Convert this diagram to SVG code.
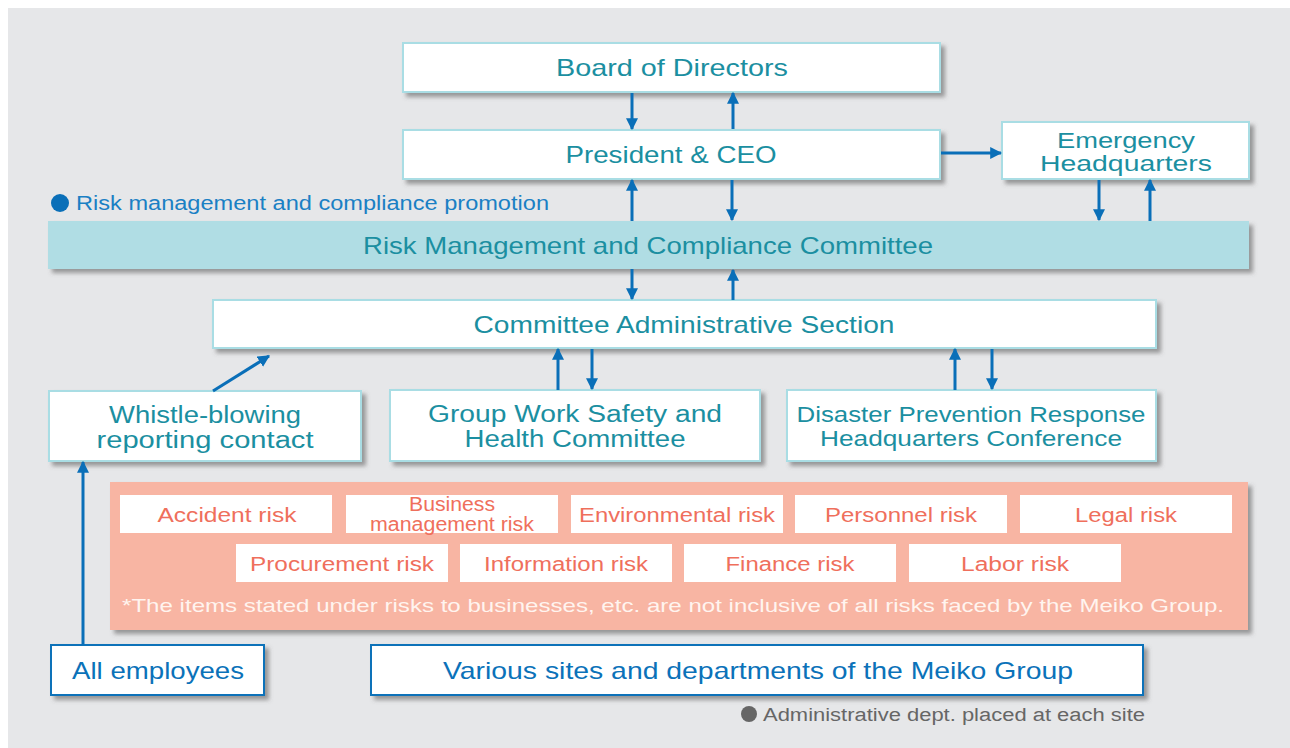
<svg xmlns="http://www.w3.org/2000/svg" width="1290" height="748" viewBox="0 0 1290 748">
<defs>
<filter id="sh" x="-5%" y="-20%" width="115%" height="150%">
<feDropShadow dx="4" dy="4" stdDeviation="2" flood-color="#555" flood-opacity="0.55"/>
</filter>
<marker id="ah" viewBox="0 0 10 10" refX="9" refY="5" markerWidth="4" markerHeight="4.4" markerUnits="strokeWidth" orient="auto">
<path d="M0,0 L10,5 L0,10 z" fill="#0a6fb8"/>
</marker>
<style>
.box{fill:#fff;stroke:#a9dde4;stroke-width:2;filter:url(#sh)}
.bbox{fill:#fff;stroke:#0b72b9;stroke-width:2;filter:url(#sh)}
.rbox{fill:#fff}
.t{font-family:"Liberation Sans",Arial,sans-serif;fill:#1b8fa1;text-anchor:middle}
.tb{font-family:"Liberation Sans",Arial,sans-serif;fill:#0b72b9;text-anchor:middle}
.tr{font-family:"Liberation Sans",Arial,sans-serif;fill:#ef6f5c;text-anchor:middle;font-size:20px}
.c{stroke:#0a6fb8;stroke-width:3;fill:none;marker-end:url(#ah)}
</style>
</defs>
<rect x="0" y="0" width="1290" height="748" fill="#fff"/>
<rect x="8" y="8" width="1282" height="740" fill="#e6e7e9"/>

<g id="board"><rect class="box" x="403" y="43" width="537" height="49"/><text class="t" x="672" y="76" font-size="24" textLength="232" lengthAdjust="spacingAndGlyphs">Board of Directors</text></g>
<g id="president"><rect class="box" x="403" y="130" width="537" height="49"/><text class="t" x="671" y="163" font-size="24" textLength="211" lengthAdjust="spacingAndGlyphs">President &amp; CEO</text></g>
<g id="emergency"><rect class="box" x="1002" y="122" width="247" height="57"/><text class="t" x="1126" y="148" font-size="22" textLength="138" lengthAdjust="spacingAndGlyphs">Emergency</text><text class="t" x="1126" y="171" font-size="22" textLength="172" lengthAdjust="spacingAndGlyphs">Headquarters</text></g>

<g id="promo-label"><circle cx="60" cy="203" r="9" fill="#0a6fb8"/><text x="76" y="210" font-family="Liberation Sans,Arial,sans-serif" font-size="20" fill="#1a80c4" textLength="473" lengthAdjust="spacingAndGlyphs">Risk management and compliance promotion</text></g>

<g id="rmc"><rect x="48" y="221" width="1201" height="48" fill="#b0dde4" filter="url(#sh)"/><text class="t" x="648" y="254" font-size="24" textLength="570" lengthAdjust="spacingAndGlyphs">Risk Management and Compliance Committee</text></g>
<g id="cas"><rect class="box" x="213" y="300" width="943" height="48"/><text class="t" x="684" y="333" font-size="24" textLength="421" lengthAdjust="spacingAndGlyphs">Committee Administrative Section</text></g>
<g id="whistle"><rect class="box" x="49" y="391" width="312" height="70"/><text class="t" x="205" y="423" font-size="23" textLength="192" lengthAdjust="spacingAndGlyphs">Whistle-blowing</text><text class="t" x="205" y="448" font-size="23" textLength="217" lengthAdjust="spacingAndGlyphs">reporting contact</text></g>
<g id="gwsh"><rect class="box" x="390" y="390" width="370" height="71"/><text class="t" x="575" y="422" font-size="23" textLength="294" lengthAdjust="spacingAndGlyphs">Group Work Safety and</text><text class="t" x="575" y="447" font-size="23" textLength="221" lengthAdjust="spacingAndGlyphs">Health Committee</text></g>
<g id="dprhc"><rect class="box" x="787" y="390" width="369" height="71"/><text class="t" x="971" y="422" font-size="22" textLength="349" lengthAdjust="spacingAndGlyphs">Disaster Prevention Response</text><text class="t" x="971" y="446" font-size="22" textLength="302" lengthAdjust="spacingAndGlyphs">Headquarters Conference</text></g>

<g id="risks">
<rect x="110" y="482" width="1138" height="148" fill="#f8b5a3" filter="url(#sh)"/>
<rect class="rbox" x="120" y="495" width="212" height="38"/><text class="tr" x="227" y="522" textLength="139" lengthAdjust="spacingAndGlyphs">Accident risk</text>
<rect class="rbox" x="346" y="495" width="212" height="38"/><text class="tr" x="452" y="511" font-size="14" textLength="86" lengthAdjust="spacingAndGlyphs">Business</text><text class="tr" x="452" y="530.5" font-size="14" textLength="164" lengthAdjust="spacingAndGlyphs">management risk</text>
<rect class="rbox" x="571" y="495" width="212" height="38"/><text class="tr" x="677" y="522" textLength="196" lengthAdjust="spacingAndGlyphs">Environmental risk</text>
<rect class="rbox" x="795" y="495" width="212" height="38"/><text class="tr" x="901" y="522" textLength="152" lengthAdjust="spacingAndGlyphs">Personnel risk</text>
<rect class="rbox" x="1020" y="495" width="212" height="38"/><text class="tr" x="1126" y="522" textLength="102" lengthAdjust="spacingAndGlyphs">Legal risk</text>
<rect class="rbox" x="236" y="544" width="212" height="38"/><text class="tr" x="342" y="571" textLength="184" lengthAdjust="spacingAndGlyphs">Procurement risk</text>
<rect class="rbox" x="460" y="544" width="212" height="38"/><text class="tr" x="566" y="571" textLength="164" lengthAdjust="spacingAndGlyphs">Information risk</text>
<rect class="rbox" x="684" y="544" width="212" height="38"/><text class="tr" x="790" y="571" textLength="129" lengthAdjust="spacingAndGlyphs">Finance risk</text>
<rect class="rbox" x="909" y="544" width="212" height="38"/><text class="tr" x="1015" y="571" textLength="108" lengthAdjust="spacingAndGlyphs">Labor risk</text>
<text x="673" y="612" font-family="Liberation Sans,Arial,sans-serif" font-size="19" fill="#fff4ef" text-anchor="middle" textLength="1102" lengthAdjust="spacingAndGlyphs">*The items stated under risks to businesses, etc. are not inclusive of all risks faced by the Meiko Group.</text>
</g>

<g id="employees"><rect class="bbox" x="51" y="645" width="213" height="50"/><text class="tb" x="158" y="679" font-size="24" textLength="172" lengthAdjust="spacingAndGlyphs">All employees</text></g>
<g id="sites"><rect class="bbox" x="371" y="645" width="772" height="50"/><text class="tb" x="758" y="679" font-size="24" textLength="630" lengthAdjust="spacingAndGlyphs">Various sites and departments of the Meiko Group</text></g>
<g id="admin-label"><circle cx="749" cy="714" r="8" fill="#666"/><text x="763" y="721" font-family="Liberation Sans,Arial,sans-serif" font-size="18" fill="#666" textLength="382" lengthAdjust="spacingAndGlyphs">Administrative dept. placed at each site</text></g>

<g id="connectors">
<line class="c" x1="632" y1="93" x2="632" y2="129"/>
<line class="c" x1="733" y1="129" x2="733" y2="93"/>
<line class="c" x1="941" y1="153" x2="1001" y2="153"/>
<line class="c" x1="632" y1="221" x2="632" y2="180"/>
<line class="c" x1="732" y1="180" x2="732" y2="220"/>
<line class="c" x1="1099" y1="180" x2="1099" y2="220"/>
<line class="c" x1="1150" y1="221" x2="1150" y2="180"/>
<line class="c" x1="632" y1="269" x2="632" y2="299"/>
<line class="c" x1="733" y1="300" x2="733" y2="270"/>
<line class="c" x1="558" y1="390" x2="558" y2="349"/>
<line class="c" x1="592" y1="349" x2="592" y2="389"/>
<line class="c" x1="955" y1="390" x2="955" y2="349"/>
<line class="c" x1="992" y1="349" x2="992" y2="389"/>
<line class="c" x1="213" y1="391" x2="269" y2="356"/>
<line class="c" x1="83" y1="645" x2="83" y2="462"/>
</g>
</svg>
